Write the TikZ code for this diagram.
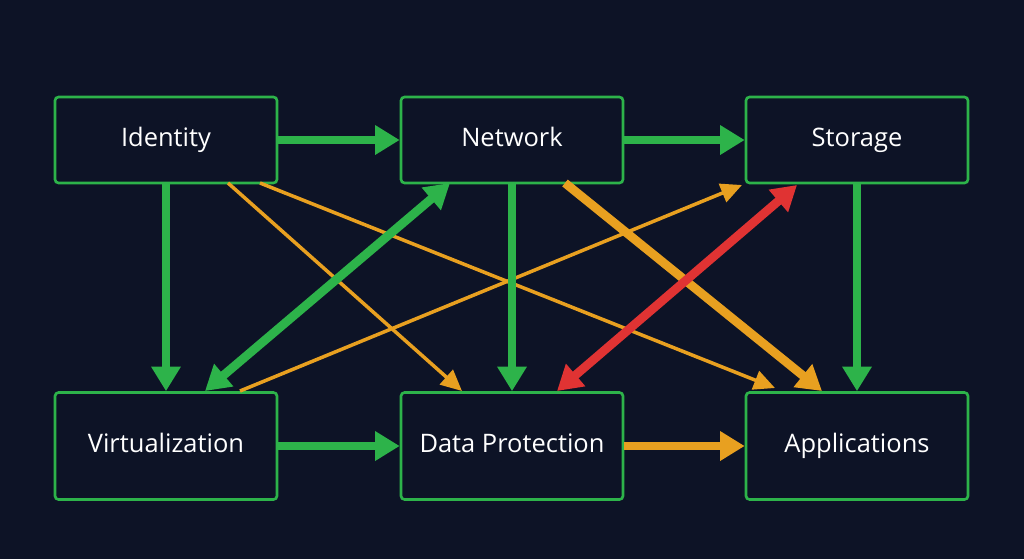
\documentclass[tikz,border=0pt]{standalone}
\usepackage{fontspec}
\setmainfont{Open Sans}
\usetikzlibrary{arrows.meta}
\definecolor{bg}{HTML}{0D1326}
\definecolor{grn}{HTML}{2DB34A}
\definecolor{org}{HTML}{E8A020}
\definecolor{rd}{HTML}{E03333}
\begin{document}
\begin{tikzpicture}[x=0.02cm, y=-0.02cm,
    box/.style = {draw=grn, line width=1.5pt, rounded corners=2pt,
                  minimum width=4.44cm, minimum height=#1, inner sep=2pt,
                  text height=1.9ex, text depth=0.5ex,
                  text=white, font=\fontsize{14.5}{17}\selectfont},
    box/.default = 1.72cm,
    big/.style = {-{Triangle[length=14pt,width=16pt]}, line width=5pt},
    both/.style = {{Triangle[length=14pt,width=16pt]}-{Triangle[length=14pt,width=16pt]}, line width=5pt},
    thin/.style = {-{Triangle[length=12pt,width=11pt]}, line width=2pt, org}
                    ]
        \fill[bg] (0,0) rectangle (1024,559);
        \useasboundingbox (0,0) rectangle (1024,559);
        \foreach \x/\y/\v/\t in {166/140/id/Identity, 512/140/net/Network, 857/140/sto/Storage}
            \node[box] at (\x,\y) (\v) {\t};
        \foreach \x/\y/\v/\t in {166/446/vir/Virtualization, 512/446/dp/Data Protection, 857/446/app/Applications}
            \node[box=2.14cm] at (\x,\y) (\v) {\t};
        \coordinate (idA) at (228,183);
        \coordinate (idB) at (260,183);
        \coordinate (virA) at (240,391);
        \coordinate (virB) at (205,391);
        \coordinate (netA) at (565,183);
        \coordinate (netB) at (450,183);
        \coordinate (stoA) at (742,185);
        \coordinate (stoB) at (797,185);
        \coordinate (dpA) at (462,391);
        \coordinate (dpB) at (557,391);
        \coordinate (appA) at (775,388);
        \coordinate (appB) at (822,391);
        % thin orange links
        \draw[thin] (idA) -- (dpA);
        \draw[thin] (idB) -- (appA);
        \draw[thin] (virA) -- (stoA);
        % thick links
        \draw[big, org] (netA) -- (appB);
        \draw[both, grn] (virB) -- (netB);
        \draw[both, rd] (dpB) -- (stoB);
        \draw[big, grn] (id) -- (net);
        \draw[big, grn] (net) -- (sto);
        \draw[big, grn] (vir) -- (dp);
        \draw[big, org] (dp) -- (app);
        \draw[big, grn] (id) -- (vir);
        \draw[big, grn] (net) -- (dp);
        \draw[big, grn] (sto) -- (app);
    \end{tikzpicture}
\end{document}
